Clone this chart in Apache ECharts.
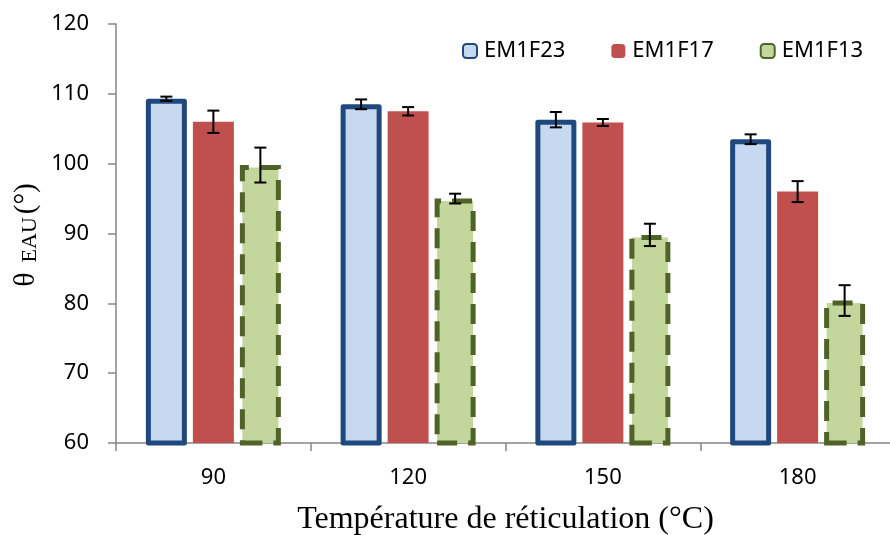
<!DOCTYPE html>
<html>
<head>
<meta charset="utf-8">
<script src="https://cdn.jsdelivr.net/npm/echarts@6/dist/echarts.min.js"></script>
<style>
  html, body { margin: 0; padding: 0; background: #fff; }
  #chart { width: 890px; height: 535px; }
</style>
</head>
<body>
<div id="chart"></div>
<script>
// données
var temps = ['90', '120', '150', '180'];
var em1f23 = [109.3, 108.5, 106.3, 103.5];
var err23 = [0.3, 0.7, 1.1, 0.7];
var em1f17 = [106.0, 107.5, 105.9, 96.0];
var err17 = [1.6, 0.6, 0.5, 1.5];
var em1f13 = [99.8, 95.0, 89.8, 80.4];
var err13 = [2.5, 0.7, 1.6, 2.2];
var yTicks = [60, 70, 80, 90, 100, 110, 120];

var BAR_W = 41;     // largeur des barres (px)
var BAR_STEP = 47;  // distance entre centres de barres (px)

// barres d'erreur : [index categorie, valeur, erreur]
function errData(vals, errs) {
  return vals.map(function (v, i) { return [i, v, errs[i]]; });
}

function errSeries(vals, errs, shift) {
  return {
    type: 'custom',
    z: 10,
    silent: true,
    data: errData(vals, errs),
    encode: { x: 0, y: 1 },
    renderItem: function (params, api) {
      var i = api.value(0), v = api.value(1), e = api.value(2);
      var hi = api.coord([i, v + e]);
      var lo = api.coord([i, v - e]);
      var x = hi[0] + shift;
      var cap = 6;
      var st = { stroke: '#000', lineWidth: 2 };
      return {
        type: 'group',
        children: [
          { type: 'line', shape: { x1: x, y1: hi[1], x2: x, y2: lo[1] }, style: st },
          { type: 'line', shape: { x1: x - cap, y1: hi[1], x2: x + cap, y2: hi[1] }, style: st },
          { type: 'line', shape: { x1: x - cap, y1: lo[1], x2: x + cap, y2: lo[1] }, style: st }
        ]
      };
    }
  };
}

var chart = echarts.init(document.getElementById('chart'));

var option = {
  animation: false,
  textStyle: { fontFamily: 'Noto Sans' },
  grid: { left: 116, right: -5, top: 24, bottom: 92, outerBoundsMode: 'none', containLabel: false },
  // titre de l'axe Y (θ avec indice EAU), tourné
  graphic: [{
    type: 'text',
    x: 26,
    y: 235,
    rotation: Math.PI / 2,
    style: {
      text: '{t|θ}{s|EAU}{p|(°)}',
      align: 'center',
      verticalAlign: 'middle',
      rich: {
        t: { fontFamily: 'Liberation Serif', fontSize: 30, fill: '#000', verticalAlign: 'top', lineHeight: 28, padding: [0, 0, 18, 0] },
        s: { fontFamily: 'Liberation Serif', fontSize: 22, fill: '#000', verticalAlign: 'bottom', lineHeight: 24, padding: [0, 3, 0, 10] },
        p: { fontFamily: 'Liberation Serif', fontSize: 29, fill: '#000', verticalAlign: 'bottom', lineHeight: 30 }
      }
    }
  }],
  legend: {
    top: 35,
    left: 457,
    itemWidth: 14,
    itemHeight: 14,
    itemGap: 46,
    textStyle: { fontSize: 22, color: '#000', fontFamily: 'Noto Sans', padding: [0, 0, 0, 2] },
    data: ['EM1F23', 'EM1F17', 'EM1F13']
  },
  xAxis: {
    type: 'category',
    data: temps,
    name: 'Température de réticulation (°C)',
    nameLocation: 'middle',
    nameGap: 61,
    nameTextStyle: { fontFamily: 'Liberation Serif', fontSize: 32, color: '#000' },
    axisLine: { lineStyle: { color: '#868686', width: 1.5 } },
    axisTick: { show: true, length: 8, lineStyle: { color: '#868686', width: 1.5 } },
    axisLabel: { fontSize: 22, color: '#000', margin: 24, fontFamily: 'Noto Sans' }
  },
  yAxis: {
    type: 'value',
    min: yTicks[0],
    max: yTicks[yTicks.length - 1],
    interval: 10,
    axisLine: { show: true, lineStyle: { color: '#868686', width: 1.5 } },
    axisTick: { show: true, length: 8, lineStyle: { color: '#868686', width: 1.5 } },
    axisLabel: { fontSize: 22, color: '#000', margin: 27, fontFamily: 'Noto Sans' },
    splitLine: { show: false }
  },
  series: [
    {
      name: 'EM1F23',
      type: 'bar',
      data: em1f23,
      barWidth: BAR_W,
      barGap: ((BAR_STEP - BAR_W) / BAR_W * 100) + '%',
      itemStyle: { color: '#C6D9F1', borderColor: '#1F497D', borderWidth: 5, borderJoin: 'round' }
    },
    {
      name: 'EM1F17',
      type: 'bar',
      data: em1f17,
      barWidth: BAR_W,
      itemStyle: { color: '#C0504D', borderColor: '#fff', borderWidth: 0 }
    },
    {
      name: 'EM1F13',
      type: 'bar',
      data: em1f13,
      barWidth: BAR_W,
      itemStyle: { color: '#C3D69B', borderColor: '#4F6228', borderWidth: 5, borderType: [20, 11] }
    },
    errSeries(em1f23, err23, -BAR_STEP),
    errSeries(em1f17, err17, 0),
    errSeries(em1f13, err13, BAR_STEP)
  ]
};

chart.setOption(option);
</script>
</body>
</html>
